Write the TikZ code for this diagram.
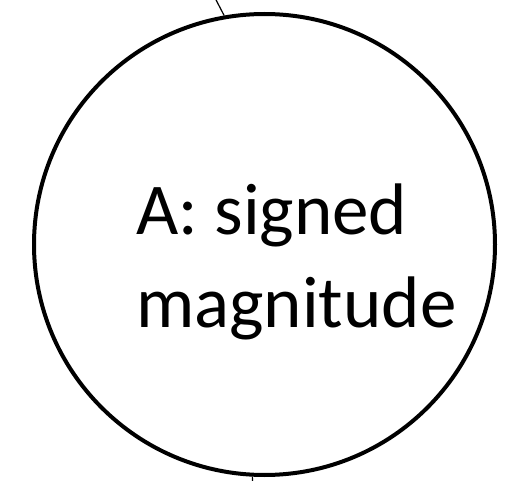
\documentclass[tikz,border=0pt]{standalone}
\usepackage{fontspec}
\setmainfont{Carlito}
\begin{document}
\begin{tikzpicture}[x=1pt,y=-1pt,
  bigcircle/.style={circle, draw, line width=4pt, minimum size=461pt, inner sep=0pt},
  label text/.style={font=\fontsize{73}{88}\selectfont, inner sep=0pt, anchor=base west},
  stub/.style={line width=1.2pt}]
\useasboundingbox (0,0) rectangle (509,481);
\node[bigcircle] (a) at (264.5,244.5) {};
\node[label text] (t1) at (136,235) {A: signed};
\node[label text] (t2) at (136,327) {magnitude};
\coordinate (topend) at (213.5,-5);
\coordinate (botend) at (253,490);
\draw[stub] (topend) -- (a.100.5);
\draw[stub] (a.267) -- (botend);
\end{tikzpicture}
\end{document}
